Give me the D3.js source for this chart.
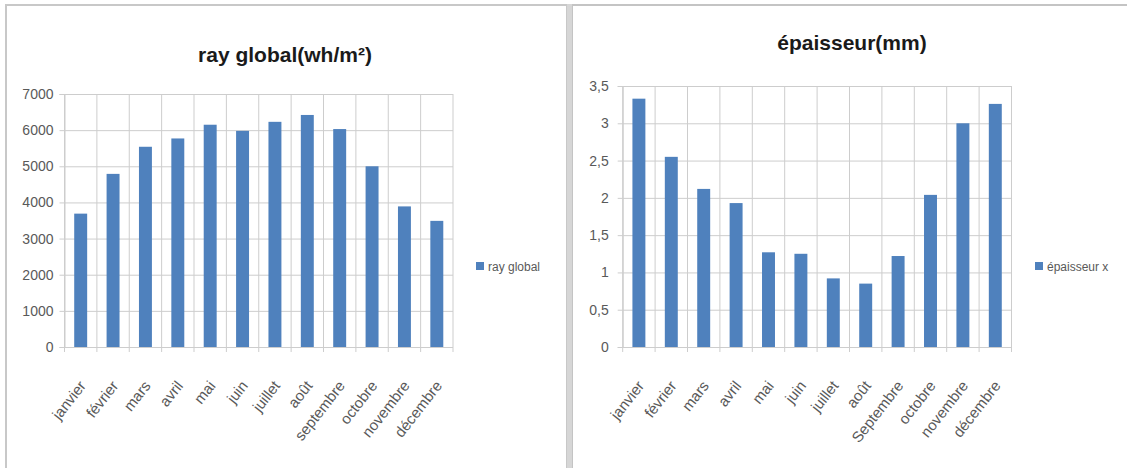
<!DOCTYPE html>
<html>
<head>
<meta charset="utf-8">
<script src="https://cdn.jsdelivr.net/npm/d3@7/dist/d3.min.js"></script>
<style>
  html, body { margin: 0; padding: 0; background: #fff; }
  svg { display: block; }
</style>
</head>
<body>
<svg id="chart" width="1127" height="468"></svg>
<script>
// ---- Data ----
const monthsLeft = ["janvier", "février", "mars", "avril", "mai", "juin", "juillet", "août", "septembre", "octobre", "novembre", "décembre"];
const monthsRight = ["janvier", "février", "mars", "avril", "mai", "juin", "juillet", "août", "Septembre", "octobre", "novembre", "décembre"];
const rayGlobal = [3690, 4790, 5540, 5770, 6150, 5980, 6230, 6420, 6030, 5000, 3890, 3490];
const epaisseur = [3.33, 2.55, 2.12, 1.93, 1.27, 1.25, 0.92, 0.85, 1.22, 2.04, 3.00, 3.26];
const rayTicks = [0, 1000, 2000, 3000, 4000, 5000, 6000, 7000];
const rayTickLabels = ["0", "1000", "2000", "3000", "4000", "5000", "6000", "7000"];
const epTicks = [0, 0.5, 1, 1.5, 2, 2.5, 3, 3.5];
const epTickLabels = ["0", "0,5", "1", "1,5", "2", "2,5", "3", "3,5"];
const titleLeft = "ray global(wh/m²)";
const titleRight = "épaisseur(mm)";
const legendLeft = "ray global";
const legendRight = "épaisseur x";

const svg = d3.select("#chart");
const FONT = "'Liberation Sans', Arial, sans-serif";
const BAR = "#4F81BD";
const GRID = "#cdcdcd";
const TXT = "#595959";

// panel frames
svg.append("rect").attr("x", 6).attr("y", 5).attr("width", 561).attr("height", 470)
  .attr("fill", "#fff").attr("stroke", "#c8c8c8").attr("stroke-width", 2);
svg.append("rect").attr("x", 572).attr("y", 5).attr("width", 570).attr("height", 470)
  .attr("fill", "#fff").attr("stroke", "#c4c4c4").attr("stroke-width", 2);
svg.append("rect").attr("x", 567).attr("y", 4).attr("width", 5).attr("height", 470)
  .attr("fill", "#d6d6d6");

function drawChart(cfg) {
  const g = svg.append("g");
  const x = d3.scaleBand().domain(cfg.cats).range([cfg.x0, cfg.x1]).paddingInner(0.6).paddingOuter(0.3);
  const y = d3.scaleLinear().domain([0, cfg.ticks[cfg.ticks.length - 1]]).range([cfg.y1, cfg.y0]);
  const step = x.step();
  const bounds = d3.range(cfg.cats.length + 1).map(i => cfg.x0 + i * step);

  // horizontal grid + y ticks
  const yAxis = d3.axisLeft(y).tickValues(cfg.ticks).tickSize(5).tickPadding(cfg.tickPad)
    .tickFormat((d, i) => cfg.tickLabels[i]);
  const yg = g.append("g").attr("transform", `translate(${cfg.x0},0)`).call(yAxis);
  yg.select(".domain").attr("stroke", GRID);
  yg.selectAll(".tick line").attr("stroke", GRID);
  yg.selectAll(".tick text").attr("fill", TXT).attr("font-family", FONT).attr("font-size", 14);
  const grid = d3.axisLeft(y).tickValues(cfg.ticks).tickSize(-(cfg.x1 - cfg.x0)).tickFormat("");
  const gg = g.append("g").attr("transform", `translate(${cfg.x0},0)`).call(grid);
  gg.select(".domain").remove();
  gg.selectAll(".tick line").attr("stroke", GRID);

  // vertical grid lines at category boundaries, extending below as tick marks
  g.append("g").selectAll("line").data(bounds).join("line")
    .attr("x1", d => d).attr("x2", d => d)
    .attr("y1", cfg.y0).attr("y2", cfg.y1 + 5)
    .attr("stroke", GRID);

  // bars
  g.append("g").selectAll("rect").data(cfg.values).join("rect")
    .attr("x", (d, i) => x(cfg.cats[i]))
    .attr("y", d => y(d))
    .attr("width", x.bandwidth())
    .attr("height", d => y(0) - y(d))
    .attr("fill", BAR);

  // x labels
  g.append("g").selectAll("text").data(cfg.cats).join("text")
    .attr("transform", d => `translate(${x(d) + x.bandwidth() / 2 + 6},${cfg.y1 + 39}) rotate(-52)`)
    .attr("text-anchor", "end")
    .attr("fill", TXT).attr("font-family", FONT).attr("font-size", 15)
    .text(d => d);

  // title
  g.append("text").attr("x", cfg.titleX).attr("y", cfg.titleY)
    .attr("text-anchor", "middle").attr("font-family", FONT).attr("font-weight", "bold")
    .attr("font-size", 21).attr("fill", "#1a1a1a").text(cfg.title);

  // legend
  g.append("rect").attr("x", cfg.legX).attr("y", 262).attr("width", 8).attr("height", 8).attr("fill", BAR);
  g.append("text").attr("x", cfg.legX + 12).attr("y", 271)
    .attr("font-family", FONT).attr("font-size", 12).attr("fill", TXT).text(cfg.legend);
}

drawChart({ cats: monthsLeft, values: rayGlobal, ticks: rayTicks, tickLabels: rayTickLabels,
  x0: 64.5, x1: 453, y0: 94, y1: 347, tickPad: 6,
  title: titleLeft, titleX: 285, titleY: 62, legX: 476, legend: legendLeft });
drawChart({ cats: monthsRight, values: epaisseur, ticks: epTicks, tickLabels: epTickLabels,
  x0: 622.7, x1: 1011.5, y0: 86, y1: 347, tickPad: 9,
  title: titleRight, titleX: 852, titleY: 50, legX: 1035, legend: legendRight });
</script>
</body>
</html>
